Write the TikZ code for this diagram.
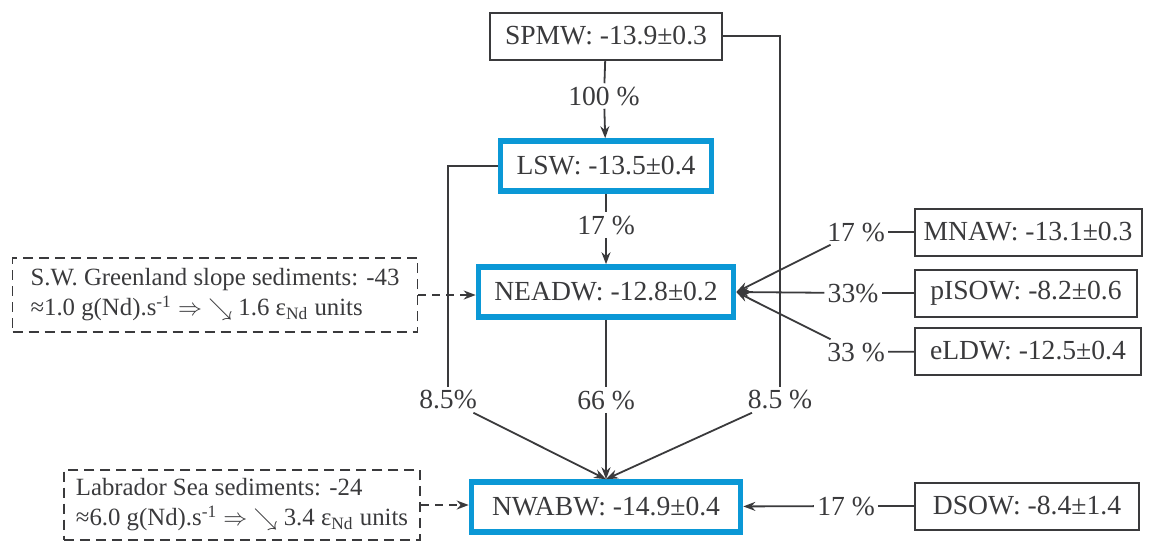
\documentclass[tikz,border=0pt]{standalone}
\usepackage{fontspec}
\setmainfont{Liberation Serif}
\usetikzlibrary{arrows.meta}
\definecolor{ink}{HTML}{3A3A3C}
\definecolor{sea}{HTML}{0B98D6}
\begin{document}
\begin{tikzpicture}[x=0.5pt,y=-0.5pt,
    font=\fontsize{13.8}{16}\selectfont, text=ink,
    wbox/.style={draw=ink, line width=1pt, minimum height=23.5pt, inner sep=0pt},
    bbox/.style={draw=sea, line width=2.8pt, minimum height=25pt, inner sep=0pt},
    sbox/.style={draw=ink, line width=0.9pt, dash pattern=on 5pt off 3pt, align=left,
      inner xsep=6pt, inner ysep=0pt, font=\fontsize{12.4}{15}\selectfont},
    pct/.style={inner sep=1.5pt},
    link/.style={draw=ink, line width=0.9pt},
    arr/.style={link, -{Stealth[length=6pt,width=4.5pt]}},
    darr/.style={arr, dash pattern=on 4pt off 3pt}]
  \useasboundingbox (0,0) rectangle (1150,542);
  % water masses
  \node[wbox, minimum width=116pt] (spmw) at (606,36) {SPMW: -13.9\textpm0.3};
  \node[bbox, minimum width=105.5pt] (lsw) at (606,166) {LSW: -13.5\textpm0.4};
  \node[bbox, minimum width=127.5pt] (neadw) at (606,292) {NEADW: -12.8\textpm0.2};
  \node[bbox, minimum width=134.5pt] (nwabw) at (606,507) {NWABW: -14.9\textpm0.4};
  \node[wbox, minimum width=113.5pt] (mnaw) at (1028,232) {MNAW: -13.1\textpm0.3};
  \node[wbox, minimum width=111pt] (pisow) at (1026,293) {pISOW: -8.2\textpm0.6};
  \node[wbox, minimum width=113pt] (eldw) at (1028,351) {eLDW: -12.5\textpm0.4};
  \node[wbox, minimum width=112pt] (dsow) at (1027,506) {DSOW: -8.4\textpm1.4};
  % sediments
  \node[sbox, minimum width=202.5pt, minimum height=37pt] (grn) at (215,295)
    {S.W. Greenland slope sediments: -43\\
     ≈1.0 g(Nd).s\textsuperscript{-1} $\Rightarrow$ $\searrow$ 1.6 ε\textsubscript{Nd} units};
  \node[sbox, minimum width=174pt, minimum height=35pt] (lab) at (242,505)
    {Labrador Sea sediments: -24\\
     ≈6.0 g(Nd).s\textsuperscript{-1} $\Rightarrow$ $\searrow$ 3.4 ε\textsubscript{Nd} units};
  % percentages
  \node[pct] (p100) at (604,96) {100 \%};
  \node[pct] (p17) at (606,225) {17 \%};
  \node[pct] (pl) at (448,400) {8.5\%};
  \node[pct] (pm) at (606,400) {66 \%};
  \node[pct] (pr) at (780,400) {8.5 \%};
  \node[pct] (qa) at (856,232) {17 \%};
  \node[pct] (qb) at (853,293) {33\%};
  \node[pct] (qc) at (856,352) {33 \%};
  \node[pct] (qd) at (846,506) {17 \%};
  % flows
  \draw[link] (spmw) -- (p100);
  \draw[arr] (p100) -- (lsw);
  \draw[link] (lsw) -- (p17);
  \draw[arr] (p17) -- (neadw);
  \draw[link] (lsw) -| (pl);
  \draw[link] (spmw) -| (pr);
  \draw[link] (neadw) -- (pm);
  \draw[arr] (pl) -- (nwabw.north);
  \draw[arr] (pm) -- (nwabw.north);
  \draw[arr] (pr) -- (nwabw.north);
  \draw[link] (mnaw) -- (qa);
  \draw[link] (pisow) -- (qb);
  \draw[link] (eldw) -- (qc);
  \draw[link] (dsow) -- (qd);
  \draw[arr] (qa) -- (neadw.east);
  \draw[arr] (qb) -- (neadw.east);
  \draw[arr] (qc) -- (neadw.east);
  \draw[arr] (qd) -- (nwabw);
  \draw[darr] (grn.east) -- (neadw.west |- grn.east);
  \draw[darr] (lab.east) -- (nwabw.west |- lab.east);
\end{tikzpicture}
\end{document}
